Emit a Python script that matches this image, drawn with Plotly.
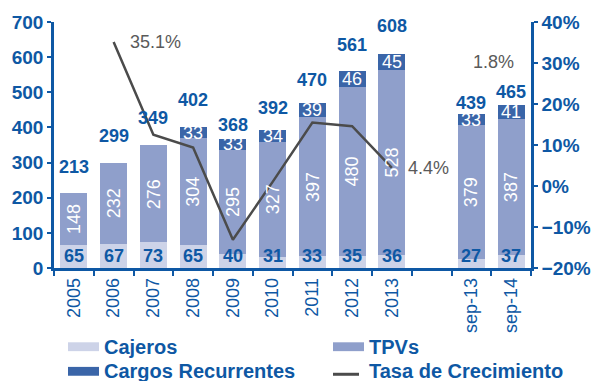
import plotly.graph_objects as go

# Categories (a blank slot separates the annual series from the September figures)
categories = ["2005", "2006", "2007", "2008", "2009", "2010", "2011", "2012", "2013",
              " ", "sep-13", "sep-14"]
cajeros = [65, 67, 73, 65, 40, 31, 33, 35, 36, None, 27, 37]
tpvs = [148, 232, 276, 304, 295, 327, 397, 480, 528, None, 379, 387]
cargos = [None, None, None, 33, 33, 34, 39, 46, 45, None, 33, 41]
totales = [213, 299, 349, 402, 368, 392, 470, 561, 608, None, 439, 465]
crecimiento = [None, 0.351, 0.125, 0.094, -0.131, 0.010, 0.155, 0.146, 0.044,
               None, None, None]
crecimiento_sep = 0.018

# vertical gap (px) between each bar top and its total label, nudged clear of the line
total_label_gap = [26, 27, 27, 27, 14, 22, 23, 26, 28, 0, 11, 13]

FONT = "Liberation Sans, Arial, sans-serif"
BLUE = "#0E58A4"
C_CAJ = "#CDD3E8"
C_TPV = "#8F9FCB"
C_CAR = "#3A65A8"
C_LINE = "#4B4B4B"
GREY_TXT = "#5A5A5A"

ML, MR, MT, MB = 54, 72, 18, 113
W, H = 603, 381
PW, PH = W - ML - MR, H - MT - MB


def px_x(px):
    return (px - ML) / PW


def px_y(py):
    return (H - MB - py) / PH


fig = go.Figure()
fig.add_trace(go.Bar(x=categories, y=cajeros, name="Cajeros", marker_color=C_CAJ,
                     marker_line_width=0))
fig.add_trace(go.Bar(x=categories, y=tpvs, name="TPVs", marker_color=C_TPV,
                     marker_line_width=0))
fig.add_trace(go.Bar(x=categories, y=cargos, name="Cargos Recurrentes", marker_color=C_CAR,
                     marker_line_width=0))
fig.add_trace(go.Scatter(x=categories, y=crecimiento, name="Tasa de Crecimiento",
                         mode="lines", yaxis="y2", connectgaps=False,
                         line=dict(color=C_LINE, width=2.5)))

ann = []
# annotations on the category axis are placed by category index
for i, cat in enumerate(categories):
    if cajeros[i] is None:
        continue
    base = cajeros[i]
    ann.append(dict(x=i, y=0, yref="y", text=str(cajeros[i]), showarrow=False,
                    yanchor="middle", yshift=12.5,
                    font=dict(family=FONT, size=18, color=BLUE, weight="bold")))
    ann.append(dict(x=i, y=base + tpvs[i] / 2, yref="y", text=str(tpvs[i]),
                    showarrow=False, textangle=-90,
                    font=dict(family=FONT, size=18, color="white")))
    top = base + tpvs[i]
    if cargos[i] is not None:
        ann.append(dict(x=i, y=top + cargos[i] / 2, yref="y", text=str(cargos[i]),
                        showarrow=False,
                        font=dict(family=FONT, size=18, color="white")))
        top += cargos[i]
    ann.append(dict(x=i, y=top, yref="y", text=str(totales[i]), showarrow=False,
                    yanchor="middle", yshift=total_label_gap[i],
                    font=dict(family=FONT, size=18, color=BLUE, weight="bold")))

# growth-rate labels
pct_font = dict(family=FONT, size=18, color=GREY_TXT)
ann.append(dict(x=categories.index("2006"), y=crecimiento[1], yref="y2",
                text=f"{crecimiento[1]*100:.1f}%",
                showarrow=False, xanchor="left", xshift=14, font=pct_font))
ann.append(dict(x=categories.index("2013"), y=crecimiento[8], yref="y2",
                text=f"{crecimiento[8]*100:.1f}%",
                showarrow=False, xanchor="left", xshift=14, font=pct_font))
ann.append(dict(x=categories.index("sep-14"), y=crecimiento_sep, yref="y2",
                text=f"{crecimiento_sep*100:.1f}%",
                showarrow=False, xshift=-18, yshift=117, font=pct_font))

# legend drawn by hand: wide swatches in two columns
shapes = []
leg_font = dict(family=FONT, size=20, color=BLUE, weight="bold")
legend_items = [
    ("Cajeros", "bar", C_CAJ, 68, 348),
    ("TPVs", "bar", C_TPV, 333, 348),
    ("Cargos Recurrentes", "bar", C_CAR, 68, 373),
    ("Tasa de Crecimiento", "line", C_LINE, 333, 373),
]
for label, kind, color, sx, cy in legend_items:
    if kind == "bar":
        shapes.append(dict(type="rect", xref="paper", yref="paper",
                           x0=px_x(sx), x1=px_x(sx + 31), y0=px_y(cy - 4.5), y1=px_y(cy + 4.5),
                           fillcolor=color, line_width=0))
    else:
        shapes.append(dict(type="line", xref="paper", yref="paper",
                           x0=px_x(sx), x1=px_x(sx + 26), y0=px_y(cy + 3), y1=px_y(cy + 3),
                           line=dict(color=color, width=3)))
    ann.append(dict(xref="paper", yref="paper", x=px_x(sx + 34), y=px_y(cy),
                    xanchor="left", yanchor="middle", text=label, showarrow=False,
                    font=leg_font))

fig.update_layout(
    width=W, height=H,
    margin=dict(l=ML, r=MR, t=MT, b=MB, pad=0),
    paper_bgcolor="white", plot_bgcolor="white",
    barmode="stack", bargap=0.32,
    showlegend=False,
    font=dict(family=FONT, color=BLUE),
    annotations=ann, shapes=shapes,
    xaxis=dict(type="category", categoryorder="array", categoryarray=categories,
               range=[-0.5, len(categories) - 0.5],
               showline=True, linecolor=BLUE, linewidth=2.5,
               ticks="outside", tickson="boundaries", ticklen=5, tickwidth=2,
               tickcolor=BLUE, tickangle=-90, showgrid=False,
               tickfont=dict(family=FONT, size=18, color=BLUE)),
    yaxis=dict(range=[0, 700], dtick=100, showline=True, linecolor=BLUE, linewidth=2.5,
               ticks="outside", ticklen=4, tickwidth=2, tickcolor=BLUE,
               showgrid=False, zeroline=False,
               tickfont=dict(family=FONT, size=19, color=BLUE, weight="bold")),
    yaxis2=dict(range=[-0.2, 0.4], dtick=0.1, tickformat=".0%", overlaying="y",
                side="right", showline=True, linecolor=BLUE, linewidth=2.5,
                ticks="outside", ticklen=4, tickwidth=2, tickcolor=BLUE,
                showgrid=False, zeroline=False,
                tickfont=dict(family=FONT, size=19, color=BLUE, weight="bold")),
)

fig.write_html("out.html")
